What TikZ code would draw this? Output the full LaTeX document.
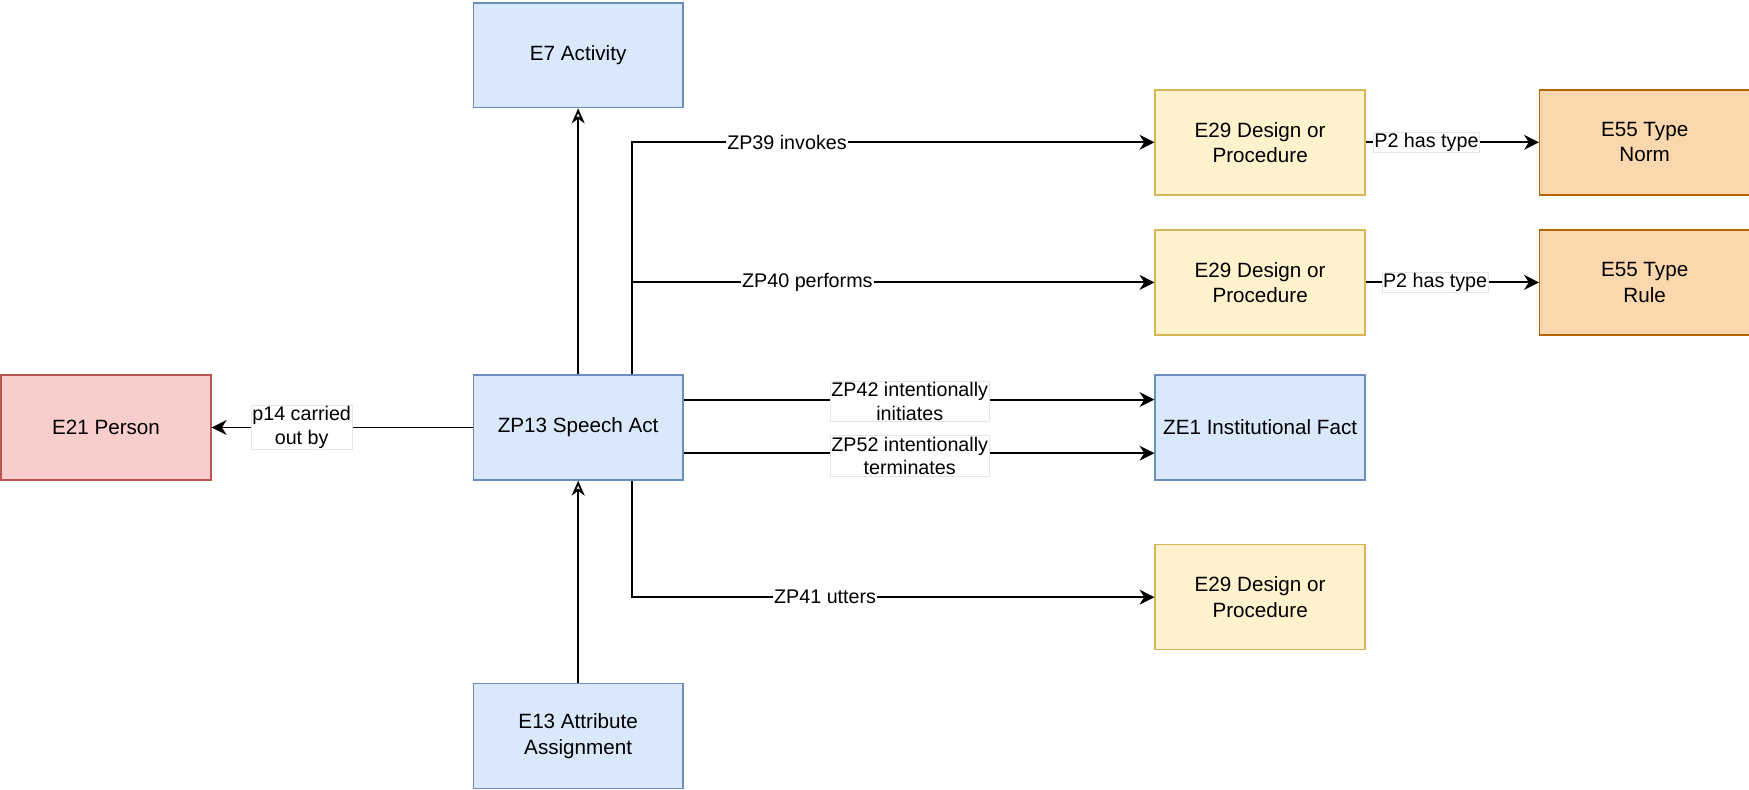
\documentclass[tikz,border=0pt]{standalone}
\usepackage{fontspec}
\setmainfont{Liberation Sans}
\usetikzlibrary{arrows.meta}
\definecolor{bluefill}{HTML}{DAE8FC}\definecolor{bluedraw}{HTML}{6C8EBF}
\definecolor{redfill}{HTML}{F8CECC}\definecolor{reddraw}{HTML}{B85450}
\definecolor{yelfill}{HTML}{FFF2CC}\definecolor{yeldraw}{HTML}{D6B656}
\definecolor{orafill}{HTML}{FAD7AC}\definecolor{oradraw}{HTML}{B46504}
\tikzset{
  box/.style={draw, line width=0.8pt, minimum width=112.8pt, minimum height=56.4pt, inner sep=0pt, align=center,
    font=\fontsize{11.1}{13.6}\selectfont},
  bluebox/.style={box, fill=bluefill, draw=bluedraw},
  redbox/.style={box, fill=redfill, draw=reddraw},
  yelbox/.style={box, fill=yelfill, draw=yeldraw},
  orabox/.style={box, fill=orafill, draw=oradraw},
  conn/.style={line width=1pt, -{Stealth[length=8pt, width=8pt, inset=2.5pt]}},
  isa/.style={line width=1pt, -{Stealth[open, length=8pt, width=7pt, inset=2.5pt]}},
  lbl/.style={fill=white, draw=black!10, line width=0.3pt, inner sep=0.6pt, align=center, font=\fontsize{10.6}{12.8}\selectfont},
}
\begin{document}
\begin{tikzpicture}[x=0.6pt, y=-0.6pt]
\useasboundingbox (0,0) rectangle (1567,707);
\node[bluebox] (e7) at (518,49.5) {E7 Activity};
\node[bluebox] (zp13) at (518,383) {ZP13 Speech Act};
\node[redbox] (e21) at (95,383) {E21 Person};
\node[bluebox] (e13) at (518,659.5) {E13 Attribute\\Assignment};
\node[yelbox] (e29a) at (1129,127.5) {E29 Design or\\Procedure};
\node[orabox] (e55n) at (1473.5,127.5) {E55 Type\\Norm};
\node[yelbox] (e29b) at (1129,253) {E29 Design or\\Procedure};
\node[orabox] (e55r) at (1473.5,253) {E55 Type\\Rule};
\node[bluebox] (ze1) at (1129,383) {ZE1 Institutional Fact};
\node[yelbox] (e29c) at (1129,535) {E29 Design or\\Procedure};

\coordinate (c39) at (566,127.5);
\coordinate (c40) at (566,253);
\coordinate (c41) at (566,535);

\draw[isa] (zp13) -- (e7);
\draw[isa] (e13) -- (zp13);
\draw[conn] (zp13) -- node[lbl, pos=0.655] {p14 carried\\out by} (e21);
\draw[conn] (zp13.north -| c39) -- (c39) -- node[lbl, draw=none, pos=0.297] {ZP39 invokes} (e29a);
\draw[conn] (zp13.north -| c40) -- (c40) -- node[lbl, draw=none, pos=0.336] {ZP40 performs} (e29b);
\draw[conn] (zp13.south -| c41) -- (c41) -- node[lbl, draw=none, pos=0.37] {ZP41 utters} (e29c);
\draw[conn] ([yshift=15pt]zp13.east) -- node[lbl, pos=0.48, yshift=-1pt] {ZP42 intentionally\\initiates} ([yshift=15pt]ze1.west);
\draw[conn] ([yshift=-13.8pt]zp13.east) -- node[lbl, pos=0.48, yshift=-1.5pt] {ZP52 intentionally\\terminates} ([yshift=-13.8pt]ze1.west);
\draw[conn] (e29a) -- node[lbl, pos=0.35] {P2 has type} (e55n);
\draw[conn] (e29b) -- node[lbl, pos=0.40] {P2 has type} (e55r);
\end{tikzpicture}
\end{document}
